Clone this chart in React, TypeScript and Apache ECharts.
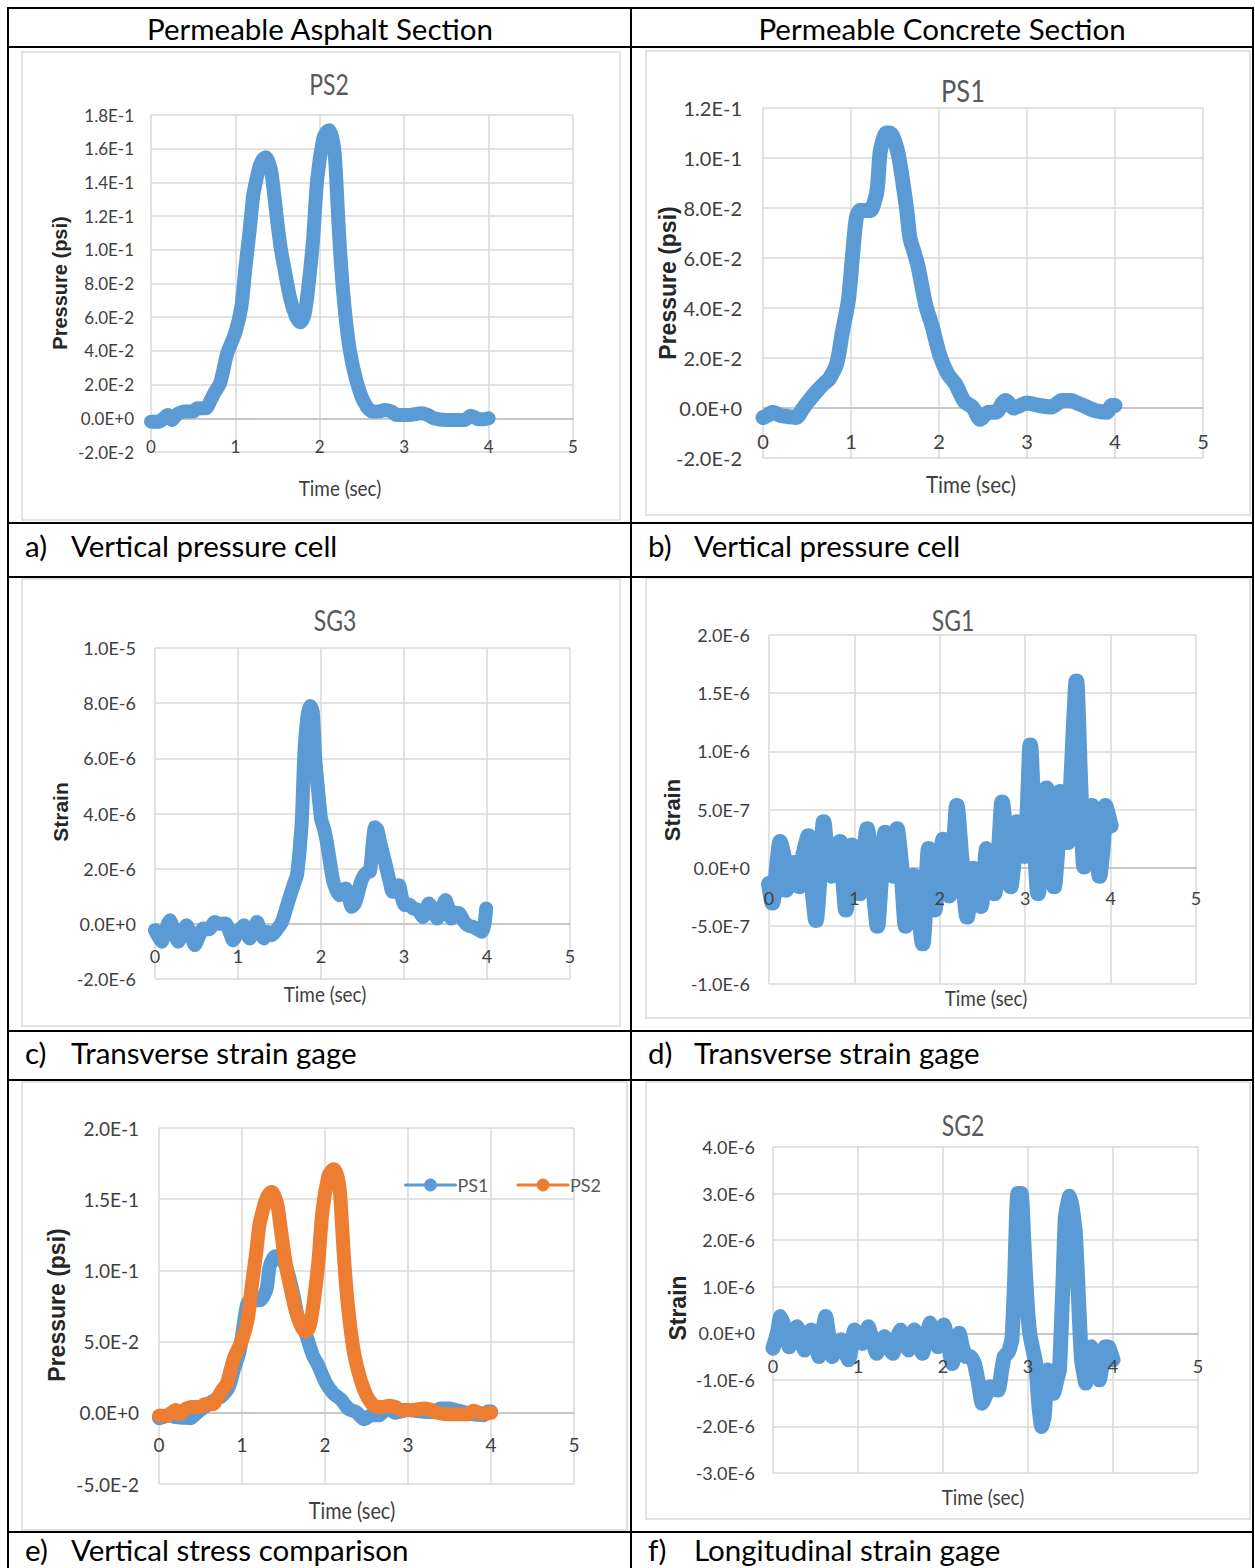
import React, { useEffect, useRef } from "react";
import * as echarts from "echarts";

// ---------------- DATA ----------------
const timeTicks = [0, 1, 2, 3, 4, 5];

// (a) PS2 – permeable asphalt vertical pressure (psi)
const ps2Time = [0, 0.05, 0.1, 0.15, 0.2, 0.25, 0.3, 0.4, 0.5, 0.55, 0.65, 0.7, 0.75, 0.82, 0.9, 1.0, 1.07, 1.12, 1.17, 1.21, 1.25, 1.29, 1.33, 1.36, 1.4, 1.43, 1.47, 1.5, 1.54, 1.58, 1.65, 1.72, 1.77, 1.81, 1.84, 1.88, 1.92, 1.97, 2.04, 2.08, 2.11, 2.15, 2.18, 2.23, 2.28, 2.35, 2.43, 2.52, 2.62, 2.7, 2.77, 2.85, 2.91, 3.0, 3.06, 3.2, 3.28, 3.35, 3.5, 3.64, 3.72, 3.79, 3.88, 3.95, 4.0];
const ps2Values = [-0.002, -0.002, -0.002, 0.0, 0.002, -0.001, 0.002, 0.004, 0.004, 0.006, 0.006, 0.01, 0.015, 0.021, 0.038, 0.051, 0.066, 0.09, 0.112, 0.132, 0.142, 0.15, 0.154, 0.155, 0.151, 0.145, 0.128, 0.115, 0.1, 0.089, 0.071, 0.06, 0.057, 0.06, 0.068, 0.085, 0.106, 0.142, 0.166, 0.17, 0.171, 0.166, 0.155, 0.108, 0.073, 0.042, 0.023, 0.01, 0.004, 0.004, 0.005, 0.004, 0.002, 0.002, 0.002, 0.003, 0.002, 0.0, -0.001, -0.001, -0.001, 0.0015, -0.0005, -0.0005, 0.0];
const ps2Ticks = [-0.02, 0, 0.02, 0.04, 0.06, 0.08, 0.1, 0.12, 0.14, 0.16, 0.18];

// (b) PS1 – permeable concrete vertical pressure (psi)
const ps1Time = [0, 0.05, 0.11, 0.2, 0.3, 0.38, 0.44, 0.5, 0.61, 0.7, 0.75, 0.84, 0.9, 0.97, 1.01, 1.06, 1.1, 1.13, 1.22, 1.27, 1.3, 1.33, 1.37, 1.4, 1.44, 1.47, 1.52, 1.56, 1.63, 1.67, 1.72, 1.76, 1.85, 1.92, 2.01, 2.1, 2.19, 2.25, 2.29, 2.38, 2.47, 2.56, 2.65, 2.72, 2.76, 2.85, 3.0, 3.14, 3.28, 3.35, 3.39, 3.5, 3.57, 3.64, 3.77, 3.91, 3.96, 4.0];
const ps1Values = [-0.0038, -0.003, -0.0017, -0.003, -0.0035, -0.0038, -0.001, 0.002, 0.0067, 0.01, 0.0115, 0.018, 0.03, 0.043, 0.058, 0.076, 0.079, 0.079, 0.079, 0.083, 0.088, 0.102, 0.108, 0.11, 0.11, 0.109, 0.104, 0.097, 0.08, 0.068, 0.062, 0.057, 0.041, 0.033, 0.021, 0.0136, 0.0095, 0.005, 0.0025, 0.0004, -0.0045, -0.0017, -0.0017, 0.002, 0.003, 0.0, 0.002, 0.001, 0.0004, 0.002, 0.003, 0.003, 0.002, 0.001, -0.001, -0.0017, 0.001, 0.001];
const ps1Ticks = [-0.02, 0, 0.02, 0.04, 0.06, 0.08, 0.1, 0.12];

// (c) SG3 – transverse strain, asphalt
const sg3Time = [0, 0.08, 0.13, 0.18, 0.23, 0.28, 0.33, 0.38, 0.43, 0.48, 0.53, 0.58, 0.65, 0.72, 0.78, 0.85, 0.9, 0.94, 1.0, 1.07, 1.1, 1.14, 1.19, 1.23, 1.27, 1.31, 1.36, 1.41, 1.47, 1.53, 1.58, 1.63, 1.68, 1.71, 1.74, 1.77, 1.8, 1.84, 1.87, 1.9, 1.93, 1.96, 2.0, 2.04, 2.07, 2.11, 2.15, 2.22, 2.26, 2.3, 2.34, 2.37, 2.41, 2.44, 2.48, 2.52, 2.56, 2.59, 2.62, 2.65, 2.68, 2.71, 2.75, 2.79, 2.83, 2.86, 2.9, 2.94, 2.97, 3.01, 3.06, 3.11, 3.17, 3.23, 3.3, 3.35, 3.4, 3.45, 3.5, 3.55, 3.57, 3.62, 3.67, 3.72, 3.77, 3.82, 3.87, 3.94, 3.97, 3.99];
const sg3Values = [-0.23e-6, -0.65e-6, -0.2e-6, 0.13e-6, -0.3e-6, -0.65e-6, -0.3e-6, -0.05e-6, -0.4e-6, -0.77e-6, -0.45e-6, -0.17e-6, -0.2e-6, 0.07e-6, 0.0, 0.01e-6, -0.3e-6, -0.6e-6, -0.3e-6, -0.05e-6, -0.3e-6, -0.53e-6, -0.2e-6, 0.07e-6, -0.3e-6, -0.53e-6, -0.3e-6, -0.41e-6, -0.2e-6, 0.07e-6, 0.55e-6, 1.04e-6, 1.5e-6, 1.76e-6, 2.6e-6, 3.8e-6, 6.2e-6, 7.6e-6, 7.9e-6, 7.7e-6, 6.0e-6, 5.0e-6, 3.82e-6, 3.4e-6, 2.97e-6, 2.2e-6, 1.52e-6, 1.04e-6, 1.2e-6, 1.28e-6, 0.9e-6, 0.62e-6, 0.75e-6, 1.04e-6, 1.5e-6, 1.76e-6, 1.88e-6, 1.9e-6, 2.8e-6, 3.5e-6, 3.4e-6, 2.97e-6, 2.5e-6, 2.0e-6, 1.5e-6, 1.16e-6, 1.3e-6, 1.4e-6, 1.0e-6, 0.68e-6, 0.7e-6, 0.56e-6, 0.5e-6, 0.25e-6, 0.74e-6, 0.5e-6, 0.19e-6, 0.5e-6, 0.86e-6, 0.4e-6, 0.19e-6, 0.4e-6, 0.37e-6, 0.1e-6, -0.05e-6, -0.1e-6, -0.17e-6, -0.29e-6, 0.0, 0.56e-6];
const sg3Ticks = [-2e-6, 0, 2e-6, 4e-6, 6e-6, 8e-6, 1e-5];

// (d) SG1 – transverse strain, concrete
const sg1Time = [0, 0.04, 0.08, 0.13, 0.17, 0.2, 0.25, 0.29, 0.33, 0.36, 0.4, 0.46, 0.5, 0.55, 0.6, 0.64, 0.68, 0.73, 0.78, 0.83, 0.87, 0.9, 0.94, 0.97, 1.02, 1.06, 1.1, 1.15, 1.2, 1.24, 1.27, 1.31, 1.36, 1.41, 1.46, 1.5, 1.55, 1.6, 1.64, 1.69, 1.74, 1.8, 1.84, 1.87, 1.9, 1.94, 1.99, 2.04, 2.08, 2.11, 2.16, 2.2, 2.25, 2.32, 2.36, 2.39, 2.44, 2.48, 2.52, 2.55, 2.6, 2.64, 2.69, 2.73, 2.78, 2.83, 2.87, 2.9, 2.95, 2.99, 3.03, 3.06, 3.1, 3.15, 3.2, 3.25, 3.3, 3.34, 3.38, 3.41, 3.46, 3.5, 3.55, 3.6, 3.64, 3.69, 3.74, 3.78, 3.83, 3.87, 3.91, 3.94, 3.97, 4.0];
const sg1Values = [-1.4e-7, -3.0e-7, -1.0e-7, 2.2e-7, 1.0e-7, -1.9e-7, -0.5e-7, 0.4e-7, -1.5e-7, -1.6e-7, 1.0e-7, 2.7e-7, -1.0e-7, -4.5e-7, 0.0, 3.9e-7, 1.0e-7, -0.7e-7, 1.5e-7, 2.2e-7, -1.0e-7, -3.6e-7, 0.0, 1.9e-7, 0.0, -2.2e-7, 0.0, 3.3e-7, 0.0, -3.0e-7, -5.0e-7, -1.0e-7, 3.0e-7, 1.0e-7, -0.7e-7, 3.3e-7, 0.0, -5.0e-7, -3.0e-7, -0.7e-7, -3.0e-7, -6.5e-7, -2.0e-7, 1.6e-7, 0.0, -3.6e-7, 0.0, 2.4e-7, 0.0, -2.4e-7, 1.0e-7, 5.3e-7, 1.0e-7, -4.2e-7, -2.0e-7, -0.1e-7, -2.0e-7, -3.3e-7, -1.0e-7, 1.6e-7, 0.0, -2.2e-7, 1.0e-7, 5.6e-7, 2.0e-7, -1.6e-7, 1.0e-7, 3.9e-7, 2.0e-7, 1.0e-7, 5.0e-7, 10.5e-7, 4.0e-7, -2.2e-7, 2.0e-7, 6.8e-7, 3.0e-7, -1.6e-7, 2.0e-7, 6.5e-7, 4.0e-7, 2.2e-7, 9.0e-7, 16.0e-7, 8.0e-7, 0.1e-7, 3.0e-7, 5.3e-7, 2.0e-7, -0.7e-7, 2.0e-7, 5.3e-7, 4.5e-7, 3.6e-7];
const sg1Ticks = [-1e-6, -5e-7, 0, 5e-7, 1e-6, 1.5e-6, 2e-6];

// (e) comparison uses PS1 and PS2 above
const cmpTicks = [-0.05, 0, 0.05, 0.1, 0.15, 0.2];
const cmpLegend = ["PS1", "PS2"];

// (f) SG2 – longitudinal strain, concrete
const sg2Time = [0, 0.05, 0.09, 0.14, 0.19, 0.24, 0.28, 0.33, 0.37, 0.41, 0.45, 0.5, 0.54, 0.58, 0.62, 0.66, 0.7, 0.75, 0.8, 0.85, 0.89, 0.93, 0.96, 1.0, 1.05, 1.09, 1.12, 1.17, 1.22, 1.27, 1.31, 1.36, 1.41, 1.46, 1.5, 1.55, 1.59, 1.63, 1.66, 1.71, 1.76, 1.8, 1.85, 1.9, 1.94, 1.98, 2.01, 2.06, 2.11, 2.15, 2.19, 2.23, 2.27, 2.32, 2.37, 2.42, 2.46, 2.5, 2.55, 2.6, 2.65, 2.69, 2.72, 2.77, 2.81, 2.84, 2.88, 2.92, 2.95, 2.98, 3.02, 3.09, 3.13, 3.16, 3.19, 3.23, 3.27, 3.3, 3.34, 3.37, 3.41, 3.44, 3.49, 3.52, 3.56, 3.6, 3.63, 3.68, 3.72, 3.75, 3.8, 3.84, 3.88, 3.91, 3.95, 4.0];
const sg2Values = [-0.32e-6, 0.0, 0.36e-6, 0.1e-6, -0.29e-6, 0.0, 0.14e-6, -0.1e-6, -0.36e-6, 0.0, 0.07e-6, -0.2e-6, -0.5e-6, 0.0, 0.36e-6, -0.1e-6, -0.5e-6, -0.3e-6, -0.14e-6, -0.4e-6, -0.57e-6, -0.2e-6, 0.07e-6, -0.05e-6, -0.22e-6, 0.0, 0.14e-6, -0.15e-6, -0.43e-6, -0.2e-6, -0.07e-6, -0.3e-6, -0.43e-6, -0.1e-6, 0.07e-6, -0.2e-6, -0.36e-6, -0.1e-6, 0.07e-6, -0.2e-6, -0.43e-6, -0.1e-6, 0.22e-6, 0.0, -0.29e-6, 0.0, 0.18e-6, -0.2e-6, -0.65e-6, -0.3e-6, 0.0, -0.3e-6, -0.5e-6, -0.5e-6, -0.65e-6, -1.1e-6, -1.5e-6, -1.35e-6, -1.15e-6, -1.2e-6, -1.22e-6, -0.8e-6, -0.5e-6, -0.4e-6, -0.14e-6, 1.0e-6, 3.0e-6, 3.0e-6, 2.0e-6, 0.93e-6, 0.0, -0.65e-6, -1.6e-6, -2.0e-6, -1.8e-6, -0.79e-6, -1.1e-6, -1.29e-6, -1.0e-6, -0.79e-6, 1.0e-6, 2.5e-6, 2.94e-6, 2.7e-6, 2.08e-6, 0.5e-6, -0.57e-6, -1.07e-6, -0.6e-6, -0.29e-6, -0.6e-6, -1.0e-6, -0.6e-6, -0.29e-6, -0.3e-6, -0.57e-6];
const sg2Ticks = [-3e-6, -2e-6, -1e-6, 0, 1e-6, 2e-6, 3e-6, 4e-6];

// Texts
const headers = ["Permeable Asphalt Section", "Permeable Concrete Section"];
const captionLabels = ["a)", "b)", "c)", "d)", "e)", "f)"];
const captionTexts = ["Vertical pressure cell", "Vertical pressure cell", "Transverse strain gage", "Transverse strain gage", "Vertical stress comparison", "Longitudinal strain gage"];
const chartTitles = ["PS2", "PS1", "SG3", "SG1", "", "SG2"];
const yTitles = ["Pressure (psi)", "Pressure (psi)", "Strain", "Strain", "Pressure (psi)", "Strain"];
const xTitle = "Time (sec)";

// ---------------- STYLE / LAYOUT ----------------
const BLUE = "#5b9bd5";
const ORANGE = "#ed7d31";
const TICKFONT = "Lato, sans-serif";
const SANS = "'Liberation Sans', Arial, sans-serif";
const CAPFONT = "Lato, 'Open Sans', sans-serif";

function sci(v: number): string {
  if (Math.abs(v) < 1e-13) return "0.0E+0";
  const [m, e] = v.toExponential(1).split("e");
  const ex = parseInt(e, 10);
  return `${m}E${ex >= 0 ? "+" + ex : ex}`;
}
const zip = (t: number[], v: number[]) => t.map((x, i) => [x, v[i]]);
const step = (ticks: number[]) => Number((ticks[1] - ticks[0]).toPrecision(6));

const panels = [
  { grid: { left: 151, top: 115, width: 422, height: 337 }, ticks: ps2Ticks, tickFont: 17, yMargin: 17, xMargin: 20, title: [329, 84, 28], xt: [340, 487, 22], yt: [60, 283, 20], box: [22, 52, 598, 468], lw: 14 },
  { grid: { left: 763, top: 108, width: 440, height: 350 }, ticks: ps1Ticks, tickFont: 20, yMargin: 21, xMargin: 23, title: [963, 90, 31], xt: [971, 484, 24], yt: [668, 283, 23], box: [646, 51, 604, 464], lw: 15 },
  { grid: { left: 155, top: 648, width: 415, height: 331 }, ticks: sg3Ticks, tickFont: 18, yMargin: 19, xMargin: 23, title: [335, 620, 28], xt: [325, 993, 22], yt: [60, 812, 21], box: [22, 579, 598, 447], lw: 14 },
  { grid: { left: 769, top: 635, width: 427, height: 349 }, ticks: sg1Ticks, tickFont: 18, yMargin: 19, xMargin: 21, title: [953, 620, 28], xt: [986, 997, 22], yt: [672, 810, 22], box: [646, 578, 604, 440], lw: 16 },
  { grid: { left: 159, top: 1128, width: 415, height: 356 }, ticks: cmpTicks, tickFont: 19, yMargin: 20, xMargin: 22, title: [0, 0, 0], xt: [352, 1510, 23], yt: [57, 1305, 23], box: [22, 1082, 605, 448], lw: 14 },
  { grid: { left: 773, top: 1147, width: 425, height: 326 }, ticks: sg2Ticks, tickFont: 18, yMargin: 18, xMargin: 24, title: [963, 1125, 28], xt: [983, 1496, 22], yt: [678, 1308, 23], box: [646, 1082, 604, 437], lw: 15 },
];

function lineSeries(name: string, idx: number, data: number[][], color: string, width: number, smooth: number) {
  return {
    type: "line",
    name,
    xAxisIndex: idx,
    yAxisIndex: idx,
    data,
    symbol: "circle",
    symbolSize: 12,
    showSymbol: false,
    smooth,
    silent: true,
    z: 2,
    itemStyle: { color },
    lineStyle: { color, width, cap: "round", join: "round" },
    emphasis: { disabled: true },
  };
}

function buildOption() {
  const grids = panels.map((p) => ({ ...p.grid, containLabel: false }));
  const xAxes: any[] = [];
  // primary time axes (line + grid), drawn under the curves
  panels.forEach((p, i) => {
    const lo = p.ticks[0];
    const hi = p.ticks[p.ticks.length - 1];
    const zeroLift = (p.grid.height * (0 - lo)) / (hi - lo);
    xAxes.push({
      type: "value",
      gridIndex: i,
      position: "bottom",
      offset: -zeroLift,
      min: timeTicks[0],
      max: timeTicks[timeTicks.length - 1],
      interval: step(timeTicks),
      z: 0,
      axisLine: { show: true, onZero: false, lineStyle: { color: "#bfbfbf", width: 1.5 } },
      axisTick: { show: false },
      axisLabel: { show: false },
      splitLine: { show: true, lineStyle: { color: "#d9d9d9", width: 1.5 } },
    });
  });
  // label-only time axes, drawn on top of the curves (as in Excel)
  panels.forEach((p, i) => {
    const lo = p.ticks[0];
    const hi = p.ticks[p.ticks.length - 1];
    const zeroLift = (p.grid.height * (0 - lo)) / (hi - lo);
    xAxes.push({
      type: "value",
      gridIndex: i,
      position: "bottom",
      offset: -zeroLift,
      min: timeTicks[0],
      max: timeTicks[timeTicks.length - 1],
      interval: step(timeTicks),
      z: 5,
      axisLine: { show: false, onZero: false },
      axisTick: { show: false },
      axisLabel: { color: "#404040", fontSize: p.tickFont, fontFamily: TICKFONT, margin: p.xMargin, formatter: (v: number) => String(v) },
      splitLine: { show: false },
    });
  });
  const yAxes = panels.map((p, i) => ({
    type: "value",
    gridIndex: i,
    min: p.ticks[0],
    max: p.ticks[p.ticks.length - 1],
    interval: step(p.ticks),
    axisLine: { show: false, onZero: false },
    axisTick: { show: false },
    axisLabel: { color: "#404040", fontSize: p.tickFont, fontFamily: TICKFONT, margin: p.yMargin, formatter: (v: number) => sci(v) },
    splitLine: { show: true, lineStyle: { color: "#d9d9d9", width: 1.5 } },
  }));

  const series = [
    lineSeries("PS2-a", 0, zip(ps2Time, ps2Values), BLUE, panels[0].lw, 0.25),
    lineSeries("PS1-b", 1, zip(ps1Time, ps1Values), BLUE, panels[1].lw, 0.25),
    lineSeries("SG3-c", 2, zip(sg3Time, sg3Values), BLUE, panels[2].lw, 0.2),
    lineSeries("SG1-d", 3, zip(sg1Time, sg1Values), BLUE, panels[3].lw, 0.15),
    lineSeries(cmpLegend[0], 4, zip(ps1Time, ps1Values), BLUE, panels[4].lw, 0.25),
    lineSeries(cmpLegend[1], 4, zip(ps2Time, ps2Values), ORANGE, panels[4].lw, 0.25),
    lineSeries("SG2-f", 5, zip(sg2Time, sg2Values), BLUE, panels[5].lw, 0.15),
  ];

  const graphic: any[] = [];
  // chart area borders
  panels.forEach((p) => {
    const [x, y, w, h] = p.box;
    graphic.push({ type: "rect", z: -1, shape: { x, y, width: w, height: h }, style: { fill: "transparent", stroke: "#d9d9d9", lineWidth: 1.5 }, silent: true });
  });
  // table lines
  const hLines = [8, 47, 523, 577, 1031, 1080, 1532];
  const vLines = [8, 631, 1253];
  hLines.forEach((y) => graphic.push({ type: "line", shape: { x1: 7, y1: y, x2: 1254, y2: y }, style: { stroke: "#000", lineWidth: 2 }, silent: true }));
  vLines.forEach((x) => graphic.push({ type: "line", shape: { x1: x, y1: 7, x2: x, y2: 1568 }, style: { stroke: "#000", lineWidth: 2 }, silent: true }));

  const txt = (text: string, x: number, y: number, size: number, family: string, fill: string, align = "center", weight: any = "normal", rotation = 0, sx = 1) => ({
    type: "text",
    x,
    y,
    rotation,
    scaleX: sx,
    silent: true,
    style: { text, x: 0, y: 0, fontSize: size, fontFamily: family, fontWeight: weight, fill, align, verticalAlign: "middle", textAlign: align, textVerticalAlign: "middle" },
  });

  // headers
  graphic.push(txt(headers[0], 320, 28, 29.5, CAPFONT, "#000"));
  graphic.push(txt(headers[1], 942, 28, 29.5, CAPFONT, "#000"));
  // captions
  const capPos = [[25, 545], [648, 545], [25, 1052], [648, 1052], [25, 1549], [648, 1549]];
  capPos.forEach(([x, y], i) => {
    graphic.push(txt(captionLabels[i], x, y, 29.5, CAPFONT, "#000", "left"));
    graphic.push(txt(captionTexts[i], x + 46, y, 29.5, CAPFONT, "#000", "left"));
  });
  // per-chart texts
  panels.forEach((p, i) => {
    if (chartTitles[i]) graphic.push(txt(chartTitles[i], p.title[0], p.title[1], p.title[2], TICKFONT, "#595959", "center", "normal", 0, 0.82));
    graphic.push(txt(xTitle, p.xt[0], p.xt[1], p.xt[2], TICKFONT, "#404040", "center", "normal", 0, 0.86));
    graphic.push(txt(yTitles[i], p.yt[0], p.yt[1], p.yt[2], SANS, "#262626", "center", "bold", Math.PI / 2));
  });

  return {
    animation: false,
    backgroundColor: "#ffffff",
    tooltip: { show: false },
    legend: {
      data: cmpLegend,
      left: 404,
      top: 1176,
      padding: 0,
      itemWidth: 50,
      itemHeight: 16,
      itemGap: 28,
      selectedMode: false,
      textStyle: { fontSize: 18, fontFamily: TICKFONT, color: "#595959", padding: [0, 0, 0, -3] },
      lineStyle: { width: 3 },
    },
    grid: grids,
    xAxis: xAxes,
    yAxis: yAxes,
    series,
    graphic,
  };
}

export default function App() {
  const ref = useRef<HTMLDivElement>(null);
  useEffect(() => {
    if (!ref.current) return;
    const chart = echarts.init(ref.current, undefined, { renderer: "svg" });
    chart.setOption(buildOption() as any);
    return () => chart.dispose();
  }, []);
  return <div ref={ref} style={{ position: "absolute", left: 0, top: 0, width: 1255, height: 1568, background: "#fff" }} />;
}
